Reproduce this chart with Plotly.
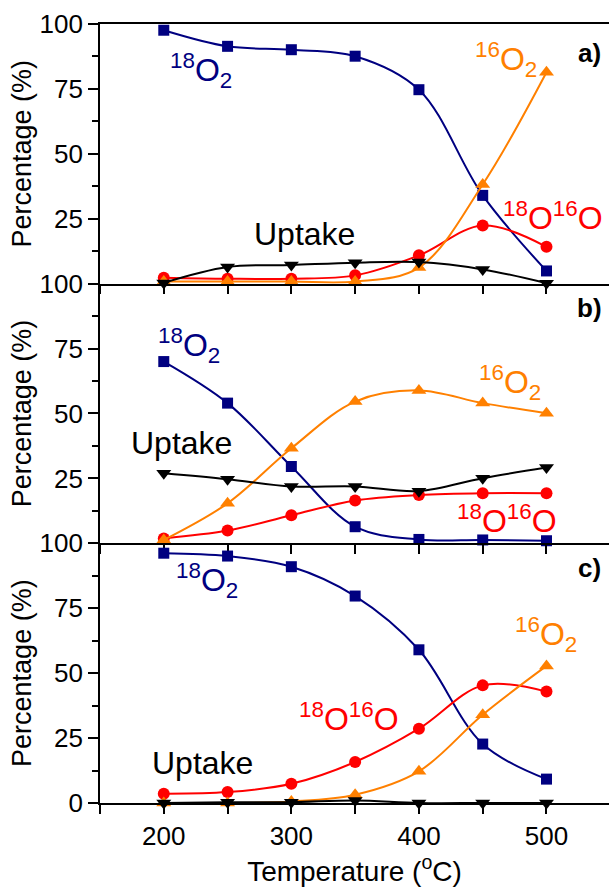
import plotly.graph_objects as go
from plotly.subplots import make_subplots

temperature = [200, 250, 300, 350, 400, 450, 500]

# Panel a)
a_18O2 = [97.6, 91.4, 90.1, 87.6, 74.7, 34.0, 4.9]
a_16O2 = [0.8, 0.8, 0.8, 0.8, 6.2, 38.2, 81.4]
a_18O16O = [2.3, 1.9, 1.9, 3.2, 10.9, 22.4, 14.2]
a_uptake = [0.3, 6.4, 7.2, 8.1, 8.3, 5.5, 0.2]

# Panel b)
b_18O2 = [70.0, 54.0, 29.6, 6.4, 1.5, 1.3, 1.0]
b_16O2 = [1.3, 15.4, 36.6, 54.6, 58.9, 54.0, 50.1]
b_18O16O = [1.9, 4.9, 10.8, 16.5, 18.6, 19.3, 19.3]
b_uptake = [27.0, 24.7, 21.9, 21.9, 20.1, 25.1, 29.2]

# Panel c)
c_18O2 = [96.2, 95.1, 91.0, 79.7, 59.0, 22.7, 9.2]
c_16O2 = [0.0, 0.0, 0.6, 3.2, 12.2, 34.0, 52.8]
c_18O16O = [3.6, 4.2, 7.4, 15.8, 28.6, 45.3, 42.9]
c_uptake = [0.0, 0.3, 0.3, 1.0, 0.0, 0.0, 0.0]

y_ticks = [0, 25, 50, 75, 100]
y_labels_upper = ["", "25", "50", "75", "100"]
y_labels_bottom = ["0", "25", "50", "75", "100"]
x_ticks = [150, 200, 250, 300, 350, 400, 450, 500, 550]
x_labels = ["", "200", "", "300", "", "400", "", "500", ""]

NAVY = "#000080"
ORANGE = "#FF8000"
RED = "#FF0000"
BLACK = "#000000"
FONT = "Liberation Sans, Arial, sans-serif"

panels = [
    (a_18O2, a_16O2, a_18O16O, a_uptake),
    (b_18O2, b_16O2, b_18O16O, b_uptake),
    (c_18O2, c_16O2, c_18O16O, c_uptake),
]

fig = make_subplots(rows=3, cols=1, shared_xaxes=True, vertical_spacing=0)

styles = [
    ("18O2", NAVY, "square", 11),
    ("18O16O", RED, "circle", 12),
    ("16O2", ORANGE, "triangle-up", 13),
    ("Uptake", BLACK, "triangle-down", 13),
]

for r, (s18, s16, s1816, sup) in enumerate(panels, start=1):
    data = {"18O2": s18, "16O2": s16, "18O16O": s1816, "Uptake": sup}
    for name, color, sym, size in styles:
        fig.add_trace(
            go.Scatter(
                x=temperature, y=data[name], mode="lines+markers", name=name,
                line=dict(color=color, width=2, shape="spline", smoothing=1.0),
                marker=dict(symbol=sym, size=size, color=color),
                cliponaxis=False, showlegend=False,
            ),
            row=r, col=1,
        )

for r in range(1, 4):
    fig.update_yaxes(
        range=[0, 100], tickvals=y_ticks,
        ticktext=y_labels_bottom if r == 3 else y_labels_upper,
        ticks="outside", ticklen=10, tickwidth=1.6, tickcolor=BLACK,
        minor=dict(dtick=12.5, tick0=0, ticks="outside", ticklen=6, tickwidth=1.6, tickcolor=BLACK),
        showline=True, linewidth=1.6, linecolor=BLACK, mirror=False,
        showgrid=False, zeroline=False,
        tickfont=dict(family=FONT, size=26, color=BLACK),
        title=dict(text="Percentage (%)", font=dict(family=FONT, size=27, color=BLACK), standoff=0),
        row=r, col=1,
    )
    fig.update_xaxes(
        range=[150, 549], tickvals=x_ticks, ticktext=x_labels,
        ticks="outside", ticklen=9, tickwidth=1.6, tickcolor=BLACK,
        showline=True, linewidth=1.6, linecolor=BLACK, mirror=(r == 1),
        showgrid=False, zeroline=False,
        tickfont=dict(family=FONT, size=26, color=BLACK),
        showticklabels=(r == 3),
        row=r, col=1,
    )

fig.update_xaxes(
    title=dict(text="Temperature (<sup>o</sup>C)", font=dict(family=FONT, size=28, color=BLACK), standoff=10),
    row=3, col=1,
)

lab18 = "<sup>18</sup>O<sub>2</sub>"
lab16 = "<sup>16</sup>O<sub>2</sub>"
labmix = "<sup>18</sup>O<sup>16</sup>O"

annos = [
    # (row, text, x, y, color, bold)
    (1, lab18, 229, 82, NAVY, False),
    (1, lab16, 468, 86.5, ORANGE, False),
    (1, labmix, 505, 26, RED, False),
    (1, "Uptake", 310, 19, BLACK, False),
    (1, "a)", 534, 89, BLACK, True),
    (2, lab18, 220, 76, NAVY, False),
    (2, lab16, 471, 62, ORANGE, False),
    (2, labmix, 469, 9.5, RED, False),
    (2, "Uptake", 214, 38.5, BLACK, False),
    (2, "b)", 534, 90.5, BLACK, True),
    (3, lab18, 234, 85.5, NAVY, False),
    (3, lab16, 500, 65, ORANGE, False),
    (3, labmix, 345, 33, RED, False),
    (3, "Uptake", 230, 15.5, BLACK, False),
    (3, "c)", 534, 90.5, BLACK, True),
]
for row, text, x, y, color, bold in annos:
    xref = "x" if row == 1 else f"x{row}"
    yref = "y" if row == 1 else f"y{row}"
    if bold:
        txt = f"<b>{text}</b>"
        size = 26
    else:
        txt = text
        size = 32
    fig.add_annotation(
        x=x, y=y, xref=xref, yref=yref, text=txt, showarrow=False,
        font=dict(family=FONT, size=size, color=color),
        xanchor="center", yanchor="middle",
    )

fig.update_layout(
    width=609, height=887,
    margin=dict(l=100, r=0, t=24, b=84),
    plot_bgcolor="white", paper_bgcolor="white",
    showlegend=False,
)

fig.write_html("out.html")
